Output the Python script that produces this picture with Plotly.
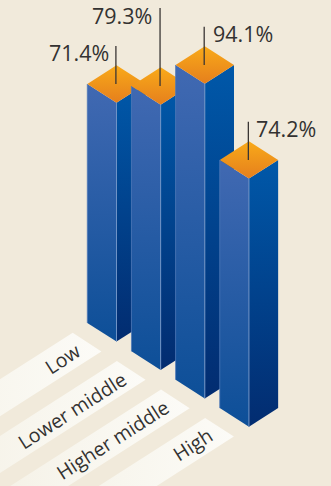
import plotly.graph_objects as go

categories = ["Low", "Lower middle", "Higher middle", "High"]
shares = [71.4, 79.3, 94.1, 74.2]
value_labels = ["71.4%", "79.3%", "94.1%", "74.2%"]
leader_lengths = [11.4, 23.3, 11.4, 11.4]

W, H = 331, 486
BG = "#f1eadb"
PX_PER_UNIT = 3.345          # vertical pixels per percentage point
Y_TOP = H / PX_PER_UNIT      # value-axis span for the whole canvas


def px(y_pixels):
    """Convert a canvas drop from the top into value-axis units."""
    return (H - y_pixels) / PX_PER_UNIT


# oblique projection of the square footprints
HALF_W = 29.2
HALF_D = 18.7
STEP_X = 44.15
STEP_Y = 28.4
FRONT_X0 = 116.5
FRONT_Y0 = 341.6

LEFT_FACE = [[0, "#0d4f98"], [1, "#4169b2"]]
RIGHT_FACE = [[0, "#022c70"], [1, "#0058a9"]]
TOP_FACE = [[0, "#e57f1d"], [1, "#f9aa19"]]
EDGE = "#6f93c6"
RIBBON = [[0, "#f3eee1"], [0.55, "#f8f6ee"], [1, "#fcfbf7"]]

# where each category name sits relative to its ribbon's tip
NAME_SHIFT = [(-10, 26), (-45.3, 49), (-48.5, 49.5), (-12.6, 27)]
# horizontal gap between a leader line and its value label
LABEL_GAP = [-6, -7, 6, 5]

fig = go.Figure()


def poly(xs, ys, scale, horizontal=False):
    fig.add_trace(go.Scatter(
        x=xs + xs[:1], y=ys + ys[:1], mode="lines", fill="toself",
        line=dict(width=0), hoverinfo="skip", showlegend=False,
        fillgradient=dict(type="horizontal" if horizontal else "vertical", colorscale=scale),
    ))


def line(xs, ys, color, width):
    fig.add_trace(go.Scatter(
        x=xs, y=ys, mode="lines", line=dict(color=color, width=width),
        hoverinfo="skip", showlegend=False,
    ))


# ribbons carrying the category names, running off the lower-left corner
for i, name in enumerate(categories):
    tip_x = 72.7 + STEP_X * i
    tip_y = 332.7 + STEP_Y * i
    reach = 220
    slope = HALF_D / HALF_W
    xs = [tip_x, tip_x + HALF_W - 0.5, tip_x + HALF_W - 0.5 - reach, tip_x - reach]
    ys = [px(tip_y), px(tip_y + HALF_D), px(tip_y + HALF_D + reach * slope), px(tip_y + reach * slope)]
    poly(xs, ys, RIBBON, horizontal=True)
    fig.add_annotation(
        x=tip_x + NAME_SHIFT[i][0], y=px(tip_y + NAME_SHIFT[i][1]),
        text=name, textangle=-32.6, showarrow=False, xanchor="center", yanchor="middle",
        font=dict(family="Open Sans", size=19.5, color="#333231"),
    )

# bars, drawn back to front
for i, value in enumerate(shares):
    fx = FRONT_X0 + STEP_X * i
    base = px(FRONT_Y0 + STEP_Y * i)
    rise = HALF_D / PX_PER_UNIT
    top = base + value
    poly([fx - HALF_W, fx, fx, fx - HALF_W],
         [base + rise, base, top, top + rise], LEFT_FACE)
    poly([fx, fx + HALF_W, fx + HALF_W, fx],
         [base, base + rise, top + rise, top], RIGHT_FACE)
    poly([fx - HALF_W, fx, fx + HALF_W, fx],
         [top + rise, top, top + rise, top + 2 * rise], TOP_FACE)
    line([fx, fx], [base, top], EDGE, 1)
    line([fx - HALF_W, fx - HALF_W], [base + rise, top + rise], "#4f78b8", 0.8)

# leader lines and value labels
for i, value in enumerate(shares):
    fx = FRONT_X0 + STEP_X * i
    top = px(FRONT_Y0 + STEP_Y * i) + value
    center = top + HALF_D / PX_PER_UNIT
    end = center + leader_lengths[i]
    line([fx - 0.6, fx - 0.6], [center, end], "#3a3634", 1.3)
    fig.add_annotation(
        x=fx + LABEL_GAP[i], y=end - 2.1, text=value_labels[i], showarrow=False,
        xanchor="right" if LABEL_GAP[i] < 0 else "left", yanchor="middle",
        font=dict(family="Open Sans", size=21.5, color="#333231"),
    )

fig.update_layout(
    width=W, height=H, margin=dict(l=0, r=0, t=0, b=0),
    paper_bgcolor=BG, plot_bgcolor=BG, showlegend=False,
    xaxis=dict(range=[0, W], visible=False, fixedrange=True),
    yaxis=dict(range=[0, Y_TOP], visible=False, fixedrange=True),
)
fig.write_html("out.html", config={"displayModeBar": False})
